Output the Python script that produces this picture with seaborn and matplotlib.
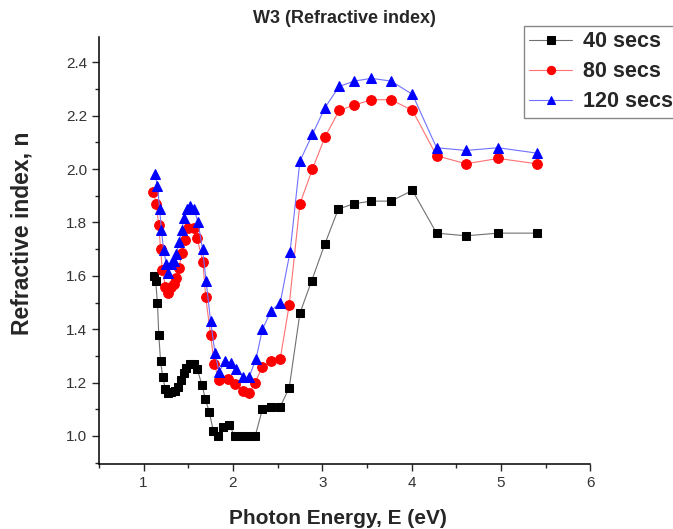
from matplotlib import pyplot as plt
from matplotlib.ticker import MultipleLocator
import pandas as pd
import seaborn as sns

# 40 secs
x40 = [1.12, 1.135, 1.155, 1.17, 1.19, 1.215, 1.245, 1.275, 1.31, 1.35, 1.385, 1.415, 1.45, 1.48, 1.52,
       1.565, 1.60, 1.655, 1.69, 1.735, 1.78, 1.835, 1.885, 1.96, 2.02, 2.10, 2.17, 2.25, 2.33, 2.43,
       2.53, 2.63, 2.75, 2.88, 3.03, 3.18, 3.35, 3.55, 3.77, 4.01, 4.28, 4.61, 4.97, 5.40]
y40 = [1.60, 1.58, 1.50, 1.38, 1.28, 1.22, 1.175, 1.16, 1.165, 1.17, 1.185, 1.21, 1.235, 1.255, 1.27,
       1.27, 1.25, 1.19, 1.14, 1.09, 1.02, 1.00, 1.035, 1.04, 1.00, 1.00, 1.00, 1.00, 1.10, 1.11,
       1.11, 1.18, 1.46, 1.58, 1.72, 1.85, 1.87, 1.88, 1.88, 1.92, 1.76, 1.75, 1.76, 1.76]

# 80 secs
x80 = [1.11, 1.14, 1.17, 1.19, 1.21, 1.245, 1.275, 1.31, 1.335, 1.365, 1.395, 1.43, 1.46, 1.50, 1.565,
       1.60, 1.665, 1.695, 1.75, 1.79, 1.845, 1.95, 2.02, 2.11, 2.18, 2.25, 2.33, 2.43, 2.53, 2.63,
       2.75, 2.89, 3.03, 3.19, 3.36, 3.55, 3.77, 4.01, 4.28, 4.61, 4.97, 5.40]
y80 = [1.915, 1.87, 1.79, 1.70, 1.62, 1.56, 1.535, 1.56, 1.57, 1.59, 1.63, 1.685, 1.735, 1.78, 1.78,
       1.74, 1.65, 1.52, 1.38, 1.27, 1.21, 1.215, 1.195, 1.17, 1.16, 1.20, 1.26, 1.28, 1.29, 1.49,
       1.87, 2.00, 2.12, 2.22, 2.24, 2.26, 2.26, 2.22, 2.05, 2.02, 2.04, 2.02]

# 120 secs
x120 = [1.13, 1.155, 1.18, 1.20, 1.225, 1.255, 1.275, 1.305, 1.335, 1.365, 1.395, 1.425, 1.455, 1.49,
        1.525, 1.565, 1.61, 1.66, 1.70, 1.75, 1.80, 1.845, 1.91, 1.975, 2.04, 2.115, 2.18, 2.26, 2.33,
        2.43, 2.53, 2.64, 2.75, 2.89, 3.03, 3.19, 3.36, 3.55, 3.77, 4.01, 4.28, 4.61, 4.97, 5.40]
y120 = [1.98, 1.935, 1.85, 1.77, 1.695, 1.645, 1.61, 1.645, 1.655, 1.68, 1.725, 1.77, 1.815, 1.85,
        1.86, 1.85, 1.80, 1.70, 1.58, 1.43, 1.31, 1.24, 1.28, 1.275, 1.25, 1.22, 1.22, 1.29, 1.40,
        1.47, 1.50, 1.69, 2.03, 2.13, 2.23, 2.31, 2.33, 2.34, 2.33, 2.28, 2.08, 2.07, 2.08, 2.06]

# label, x, y, line colour, marker colour, marker, size
series = [
    ('40 secs', x40, y40, '#707070', 'black', 's', 6),
    ('80 secs', x80, y80, '#ff7070', 'red', 'o', 7),
    ('120 secs', x120, y120, '#7070ff', 'blue', '^', 7.5),
]

sns.set_style('ticks')
plt.rcParams['font.family'] = ['Liberation Sans', 'DejaVu Sans']

fig = plt.figure(figsize=(6.73, 5.29), dpi=100)
ax = fig.add_axes([0.147, 0.123, 0.730, 0.807])

for label, xs, ys, lc, mc, marker, ms in series:
    df = pd.DataFrame({'E': xs, 'n': ys})
    sns.lineplot(data=df, x='E', y='n', sort=False, ax=ax, color=lc, marker=marker,
                 markersize=ms, markeredgecolor=mc, markerfacecolor=mc,
                 linewidth=0.8, label=label, legend=False)

ax.set_xlim(0.5, 6)
ax.set_ylim(0.895, 2.495)
ax.xaxis.set_major_locator(MultipleLocator(1))
ax.xaxis.set_minor_locator(MultipleLocator(0.5))
ax.yaxis.set_major_locator(MultipleLocator(0.2))
ax.yaxis.set_minor_locator(MultipleLocator(0.1))
ax.tick_params(which='major', direction='out', length=5, width=1, labelsize=11, labelcolor='#333333')
ax.tick_params(which='minor', direction='out', length=3, width=1)
sns.despine(ax=ax)
for sp in ['left', 'bottom']:
    ax.spines[sp].set_linewidth(1.1)
    ax.spines[sp].set_color('black')

ax.set_title('W3 (Refractive index)', fontsize=13, fontweight='bold', pad=10)
ax.set_xlabel('Photon Energy, E (eV)', fontsize=15, fontweight='bold')
ax.set_ylabel('Refractive index, n', fontsize=16.5, fontweight='bold')
ax.xaxis.set_label_coords(0.487, -0.105)
ax.yaxis.set_label_coords(-0.133, 0.541)

handles, labels = ax.get_legend_handles_labels()
fig.legend(handles, labels, loc='upper left', bbox_to_anchor=(524 / 673, 1 - 26 / 529),
           bbox_transform=fig.transFigure, fancybox=False, edgecolor='#888888', framealpha=1,
           prop={'weight': 'bold', 'size': 15.5}, handlelength=2.0, borderpad=0.25,
           labelspacing=0.42, handletextpad=0.5, borderaxespad=0, markerscale=0.85)

plt.savefig('out.png', dpi=100)
